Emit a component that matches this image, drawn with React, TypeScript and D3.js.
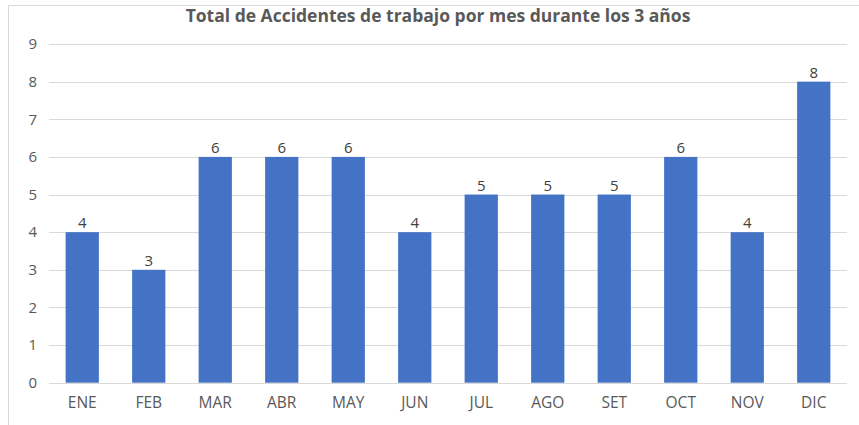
import { useEffect, useRef } from 'react'
import * as d3 from 'd3'

const months = ['ENE', 'FEB', 'MAR', 'ABR', 'MAY', 'JUN', 'JUL', 'AGO', 'SET', 'OCT', 'NOV', 'DIC']
const accidents = [4, 3, 6, 6, 6, 4, 5, 5, 5, 6, 4, 8]
const yTicks = [0, 1, 2, 3, 4, 5, 6, 7, 8, 9]
const title = 'Total de Accidentes de trabajo por mes durante los 3 años'

export default function App() {
  const svgRef = useRef<any>()
  const width = 859
  const height = 425
  const margin = { top: 44, right: 12, bottom: 42, left: 49 }

  useEffect(() => {
    const svg = d3.select(svgRef.current)
    svg.selectAll('*').remove()
    const font = 'Open Sans, Liberation Sans, sans-serif'

    // outer frame of the chart area
    svg
      .append('path')
      .attr('d', `M8.5,${height} V5.5 H${width}`)
      .attr('fill', 'none')
      .attr('stroke', '#d9d9d9')

    const x = d3
      .scaleBand()
      .domain(months)
      .range([margin.left, width - margin.right])
      .paddingInner(0.5)
      .paddingOuter(0.25)
    const y = d3.scaleLinear().domain([0, 9]).range([height - margin.bottom - 0.3, margin.top])

    // gridlines
    svg
      .append('g')
      .selectAll('line')
      .data(yTicks)
      .enter()
      .append('line')
      .attr('x1', margin.left)
      .attr('x2', width - margin.right)
      .attr('y1', (d) => Math.round(y(d)) + 0.5)
      .attr('y2', (d) => Math.round(y(d)) + 0.5)
      .attr('stroke', '#d9d9d9')
      .attr('stroke-width', 1)

    // y labels
    svg
      .append('g')
      .selectAll('text')
      .data(yTicks)
      .enter()
      .append('text')
      .attr('x', 37)
      .attr('y', (d) => y(d))
      .attr('dy', '0.35em')
      .attr('text-anchor', 'end')
      .attr('font-family', font)
      .attr('font-size', 15)
      .attr('fill', '#595959')
      .text((d) => d)

    // bars
    svg
      .append('g')
      .selectAll('rect')
      .data(accidents)
      .enter()
      .append('rect')
      .attr('x', (_, i) => x(months[i]))
      .attr('y', (d) => y(d))
      .attr('width', x.bandwidth())
      .attr('height', (d) => y(0) - y(d))
      .attr('fill', '#4472c4')

    // value labels
    svg
      .append('g')
      .selectAll('text')
      .data(accidents)
      .enter()
      .append('text')
      .attr('x', (_, i) => x(months[i]) + x.bandwidth() / 2)
      .attr('y', (d) => y(d) - 4)
      .attr('text-anchor', 'middle')
      .attr('font-family', font)
      .attr('font-size', 15)
      .attr('fill', '#404040')
      .text((d) => d)

    // x labels
    svg
      .append('g')
      .selectAll('text')
      .data(months)
      .enter()
      .append('text')
      .attr('x', (d) => x(d) + x.bandwidth() / 2)
      .attr('y', 408)
      .attr('text-anchor', 'middle')
      .attr('font-family', font)
      .attr('font-size', 15.5)
      .attr('fill', '#595959')
      .text((d) => d)

    // title
    svg
      .append('text')
      .attr('x', 438)
      .attr('y', 22)
      .attr('text-anchor', 'middle')
      .attr('font-family', font)
      .attr('font-size', 17.5)
      .attr('font-weight', 'bold')
      .attr('fill', '#595959')
      .text(title)
  }, [])

  return (
    <svg
      ref={svgRef}
      width={width}
      height={height}
      style={{ position: 'absolute', left: 0, top: 0, background: '#fff' }}
    ></svg>
  )
}
